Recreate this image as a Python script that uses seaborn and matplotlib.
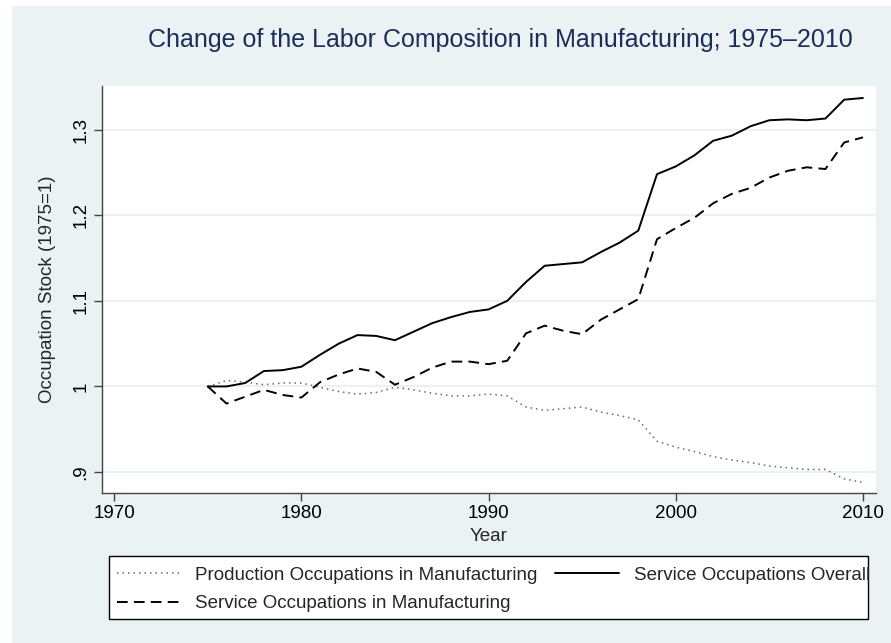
import pandas as pd
import matplotlib.pyplot as plt
import matplotlib.patches as mpatches
import seaborn as sns

years = list(range(1975, 2011))

production_mfg = [1.000, 1.007, 1.005, 1.002, 1.004, 1.004, 0.999, 0.994, 0.991, 0.993,
                  0.999, 0.996, 0.992, 0.989, 0.989, 0.991, 0.989, 0.976, 0.972, 0.974,
                  0.976, 0.970, 0.966, 0.961, 0.936, 0.929, 0.924, 0.918, 0.914, 0.911,
                  0.907, 0.905, 0.903, 0.903, 0.892, 0.888]
service_mfg = [1.000, 0.980, 0.988, 0.996, 0.990, 0.987, 1.005, 1.014, 1.021, 1.017,
               1.002, 1.011, 1.022, 1.029, 1.029, 1.026, 1.030, 1.062, 1.071, 1.065,
               1.061, 1.078, 1.090, 1.102, 1.172, 1.185, 1.197, 1.214, 1.225, 1.232,
               1.244, 1.252, 1.256, 1.254, 1.285, 1.291]
service_all = [1.000, 1.000, 1.004, 1.018, 1.019, 1.023, 1.037, 1.050, 1.060, 1.059,
               1.054, 1.064, 1.074, 1.081, 1.087, 1.090, 1.100, 1.122, 1.141, 1.143,
               1.145, 1.157, 1.168, 1.182, 1.248, 1.257, 1.270, 1.287, 1.293, 1.304,
               1.311, 1.312, 1.311, 1.313, 1.335, 1.337]

series_names = ["Production Occupations in Manufacturing",
                "Service Occupations in Manufacturing",
                "Service Occupations Overall"]

yticks = [0.9, 1.0, 1.1, 1.2, 1.3]
ytick_labels = [".9", "1", "1.1", "1.2", "1.3"]
xticks = [1970, 1980, 1990, 2000, 2010]

df = pd.concat([
    pd.DataFrame({"Year": years, "value": production_mfg, "series": series_names[0]}),
    pd.DataFrame({"Year": years, "value": service_mfg, "series": series_names[1]}),
    pd.DataFrame({"Year": years, "value": service_all, "series": series_names[2]}),
], ignore_index=True)

sns.set_style("white")
plt.rcParams["font.family"] = ["Liberation Sans", "DejaVu Sans"]

W, H = 891, 643
fig = plt.figure(figsize=(W / 100, H / 100), dpi=100, facecolor="white")
bg = "#EAF2F3"
fig.patches.append(mpatches.Rectangle((12 / W, 0), 1, 1 - 6 / H, transform=fig.transFigure,
                                      facecolor=bg, edgecolor="none", zorder=-10))

ax = fig.add_axes([102 / W, 1 - 493 / H, (876 - 102) / W, (493 - 86) / H])
ax.set_facecolor("white")

palette = {series_names[0]: "#6a6a6a", series_names[1]: "black", series_names[2]: "black"}
dashes = {series_names[0]: (1, 2.6), series_names[1]: (5.5, 3.2), series_names[2]: ""}

sns.lineplot(data=df, x="Year", y="value", hue="series", style="series",
             hue_order=series_names, style_order=series_names,
             palette=palette, dashes=dashes, linewidth=1.4, legend=False, ax=ax)

lines = ax.get_lines()
lines[0].set_linewidth(1.1)

ax.set_xlim(1969.35, 2010.7)
ax.set_ylim(0.8755, 1.351)
ax.set_xticks(xticks)
ax.set_yticks(yticks)
ax.set_yticklabels(ytick_labels, rotation=90, va="center")
ax.tick_params(axis="both", direction="out", length=6, width=1, color="#444444",
               labelsize=13.5, labelcolor="black", pad=3, left=True, bottom=True)
ax.grid(axis="y", color=bg, linewidth=1.5)
ax.set_axisbelow(True)
for s in ["top", "right"]:
    ax.spines[s].set_visible(False)
for s in ["left", "bottom"]:
    ax.spines[s].set_color("#444444")
    ax.spines[s].set_linewidth(1)
ax.set_xlabel("Year", fontsize=13.5, labelpad=4)
ax.set_ylabel("Occupation Stock (1975=1)", fontsize=13.5, labelpad=12)

fig.text(500 / W, 1 - 40 / H, "Change of the Labor Composition in Manufacturing; 1975\u20132010",
         ha="center", va="center", fontsize=18, color="#1C2D5A")

# legend box drawn separately; last label overflows it like the original
fig.patches.append(mpatches.Rectangle((109 / W, 1 - 619 / H), (868 - 109) / W, (619 - 556) / H,
                                      transform=fig.transFigure, facecolor="white",
                                      edgecolor="black", linewidth=1, zorder=-5))
leg = fig.legend(list(lines), list(series_names), ncol=2, loc="upper left",
                 bbox_to_anchor=(109 / W, 1 - 559 / H),
                 frameon=False, fontsize=13.5, handlelength=3.4,
                 handletextpad=0.8, borderpad=0.4, labelspacing=0.62, columnspacing=0.95,
                 borderaxespad=0)

plt.savefig("out.png", dpi=100, facecolor=fig.get_facecolor())
